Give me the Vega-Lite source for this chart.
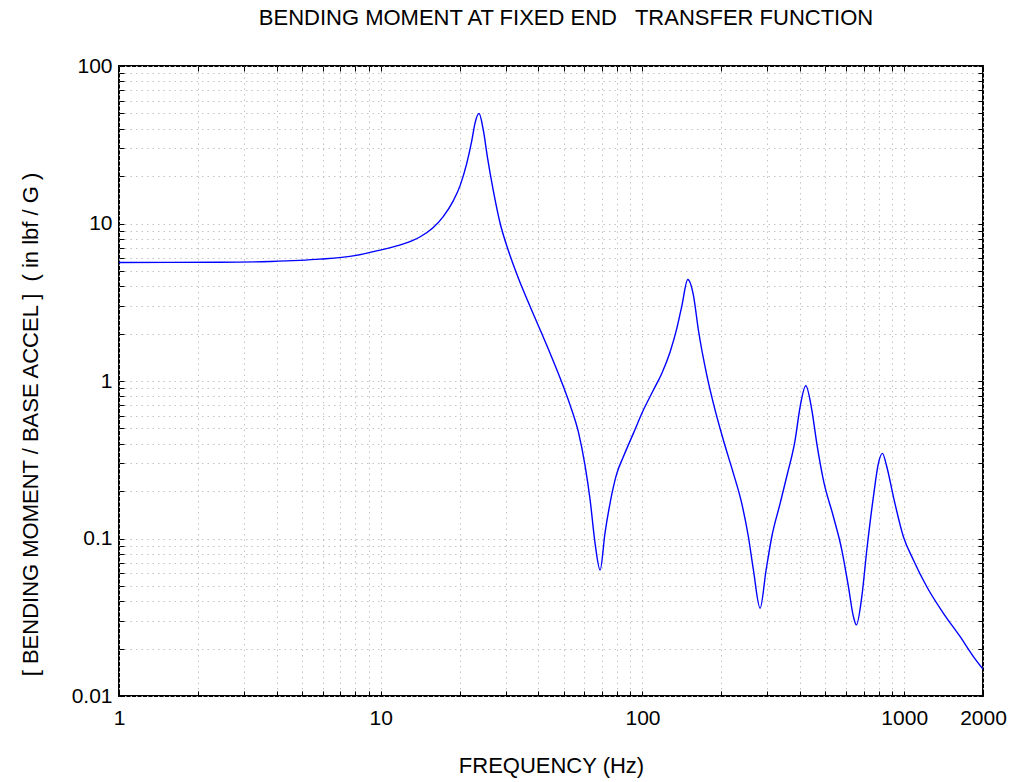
{
  "$schema": "https://vega.github.io/schema/vega-lite/v6.json",
  "width": 864,
  "height": 630,
  "autosize": "none",
  "padding": {"left": 119, "top": 66, "right": 33, "bottom": 86},
  "background": "white",
  "title": {
    "text": "BENDING MOMENT AT FIXED END\u00a0\u00a0 TRANSFER FUNCTION",
    "anchor": "middle",
    "font": "Liberation Sans",
    "fontSize": 22,
    "fontWeight": "normal",
    "color": "black",
    "offset": 25,
    "dx": 15
  },
  "config": {
    "view": {"stroke": "black", "strokeWidth": 2},
    "axis": {
      "labelFont": "Liberation Sans",
      "labelFontSize": 21,
      "labelColor": "black",
      "titleFont": "Liberation Sans",
      "titleFontSize": 22,
      "titleFontWeight": "normal",
      "titleColor": "black",
      "domain": false,
      "tickColor": "black",
      "tickWidth": 1,
      "tickSize": -5,
      "labelFlush": false,
      "labelOverlap": false,
      "labelBound": false
    }
  },
  "data": {
    "values": [
      {"f": 1, "v": 5.66}, {"f": 2.43, "v": 5.67}, {"f": 3.78, "v": 5.74}, {"f": 5.86, "v": 5.94},
      {"f": 7.84, "v": 6.23}, {"f": 9.94, "v": 6.77}, {"f": 12.2, "v": 7.42}, {"f": 13.2, "v": 7.79}, {"f": 14.1, "v": 8.21},
      {"f": 15.8, "v": 9.36}, {"f": 17.3, "v": 11.02}, {"f": 18.9, "v": 13.87}, {"f": 20.1, "v": 17.4},
      {"f": 21.3, "v": 24.0}, {"f": 22.3, "v": 33.8}, {"f": 22.9, "v": 43.1}, {"f": 23.75, "v": 49.9},
      {"f": 24.66, "v": 39.1}, {"f": 25.55, "v": 26.5}, {"f": 26.9, "v": 16.3}, {"f": 28.6, "v": 10.0},
      {"f": 30.7, "v": 6.77}, {"f": 33.6, "v": 4.48}, {"f": 35.1, "v": 3.74}, {"f": 39.5, "v": 2.36},
      {"f": 44.4, "v": 1.495}, {"f": 48.4, "v": 1.049}, {"f": 52.9, "v": 0.703}, {"f": 56.9, "v": 0.475},
      {"f": 60.3, "v": 0.292}, {"f": 63.1, "v": 0.1755}, {"f": 65.9, "v": 0.0932}, {"f": 68.9, "v": 0.0631},
      {"f": 71.9, "v": 0.108}, {"f": 75.2, "v": 0.168}, {"f": 79.8, "v": 0.259}, {"f": 84.5, "v": 0.33},
      {"f": 92.3, "v": 0.465}, {"f": 100.8, "v": 0.654}, {"f": 110.1, "v": 0.876}, {"f": 118.5, "v": 1.117},
      {"f": 127.5, "v": 1.53}, {"f": 135.2, "v": 2.15}, {"f": 141.3, "v": 2.98}, {"f": 149.0, "v": 4.41},
      {"f": 156.5, "v": 3.51}, {"f": 163.6, "v": 2.1}, {"f": 176.1, "v": 1.09}, {"f": 186.6, "v": 0.721},
      {"f": 203.7, "v": 0.422}, {"f": 222.5, "v": 0.259}, {"f": 239.5, "v": 0.167}, {"f": 253.9, "v": 0.1026},
      {"f": 265.4, "v": 0.0631}, {"f": 281.4, "v": 0.0361}, {"f": 296.7, "v": 0.0631}, {"f": 311.9, "v": 0.1026},
      {"f": 335.7, "v": 0.167}, {"f": 356.9, "v": 0.253}, {"f": 383.0, "v": 0.422}, {"f": 400.2, "v": 0.686},
      {"f": 420.7, "v": 0.932}, {"f": 443.7, "v": 0.654}, {"f": 463.4, "v": 0.402}, {"f": 491.2, "v": 0.235},
      {"f": 536.5, "v": 0.1375}, {"f": 577.7, "v": 0.0845}, {"f": 612.2, "v": 0.0494}, {"f": 639.7, "v": 0.0319},
      {"f": 656.7, "v": 0.0283}, {"f": 688.6, "v": 0.0427}, {"f": 719.6, "v": 0.0845}, {"f": 762.6, "v": 0.184},
      {"f": 796.9, "v": 0.3}, {"f": 825.4, "v": 0.347}, {"f": 858.0, "v": 0.2855}, {"f": 909.4, "v": 0.184},
      {"f": 993, "v": 0.1026}, {"f": 1084, "v": 0.0731}, {"f": 1220, "v": 0.0494}, {"f": 1412, "v": 0.0335},
      {"f": 1636, "v": 0.0238}, {"f": 1838, "v": 0.0178}, {"f": 2000, "v": 0.0148}
    ]
  },
  "layer": [
    {
      "mark": {"type": "line", "color": "#0000ff", "strokeWidth": 1.4, "interpolate": "monotone", "clip": true},
      "encoding": {
        "x": {
          "field": "f", "type": "quantitative",
          "scale": {"type": "log", "domain": [1, 2000], "nice": false},
          "axis": {
            "orient": "bottom",
            "title": "FREQUENCY (Hz)",
            "titleY": 69, "titleBaseline": "middle",
            "values": [1,2,3,4,5,6,7,8,9,10,20,30,40,50,60,70,80,90,100,200,300,400,500,600,700,800,900,1000,2000],
            "format": "~g",
            "labelExpr": "indexof([1,10,100,1000,2000], datum.value) >= 0 ? datum.label : ''",
            "labelPadding": 16,
            "grid": true, "gridColor": "#c4c4c4", "gridDash": [1.5, 4], "gridWidth": 1
          }
        },
        "y": {
          "field": "v", "type": "quantitative",
          "scale": {"type": "log", "domain": [0.01, 100], "nice": false},
          "axis": {
            "orient": "left",
            "title": "[ BENDING MOMENT / BASE ACCEL ]\u00a0\u00a0( in lbf / G )",
            "titleX": -89, "titleY": 358, "titleAngle": -90, "titleBaseline": "middle", "titleAlign": "center",
            "values": [0.01,0.02,0.03,0.04,0.05,0.06,0.07,0.08,0.09,0.1,0.2,0.3,0.4,0.5,0.6,0.7,0.8,0.9,1,2,3,4,5,6,7,8,9,10,20,30,40,50,60,70,80,90,100],
            "format": "~g",
            "labelExpr": "indexof([0.01,0.1,1,10,100], datum.value) >= 0 ? datum.label : ''",
            "labelPadding": 12,
            "grid": true, "gridColor": "#c4c4c4", "gridDash": [1.5, 4], "gridWidth": 1
          }
        }
      }
    },
    {
      "mark": {"type": "line", "opacity": 0},
      "encoding": {
        "x": {
          "field": "f", "type": "quantitative",
          "scale": {"type": "log", "domain": [1, 2000], "nice": false},
          "axis": {
            "orient": "top", "title": null, "labels": false, "grid": false,
            "values": [1,2,3,4,5,6,7,8,9,10,20,30,40,50,60,70,80,90,100,200,300,400,500,600,700,800,900,1000,2000]
          }
        },
        "y": {
          "field": "v", "type": "quantitative",
          "scale": {"type": "log", "domain": [0.01, 100], "nice": false},
          "axis": {
            "orient": "right", "title": null, "labels": false, "grid": false,
            "values": [0.01,0.02,0.03,0.04,0.05,0.06,0.07,0.08,0.09,0.1,0.2,0.3,0.4,0.5,0.6,0.7,0.8,0.9,1,2,3,4,5,6,7,8,9,10,20,30,40,50,60,70,80,90,100]
          }
        }
      }
    }
  ],
  "resolve": {
    "scale": {"x": "independent", "y": "independent"},
    "axis": {"x": "independent", "y": "independent"}
  }
}
